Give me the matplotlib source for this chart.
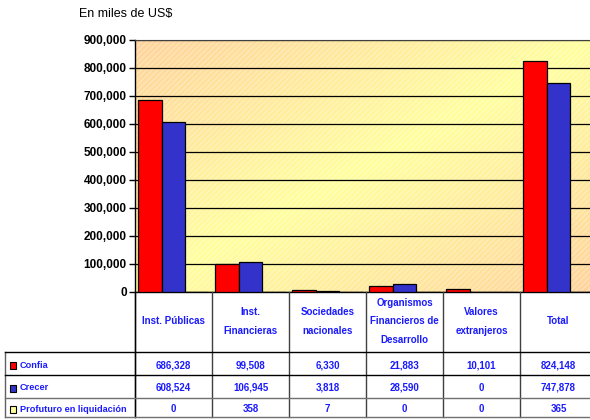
import numpy as np
import matplotlib
matplotlib.use("Agg")
import matplotlib.pyplot as plt
from matplotlib.colors import LinearSegmentedColormap
from matplotlib.patches import Rectangle
from matplotlib.ticker import FuncFormatter

# Data
categories = ["Inst. Públicas", "Inst.\nFinancieras", "Sociedades\nnacionales",
              "Organismos\nFinancieros de\nDesarrollo", "Valores\nextranjeros", "Total"]
series_names = ["Confia", "Crecer", "Profuturo en liquidación"]
confia = [686328, 99508, 6330, 21883, 10101, 824148]
crecer = [608524, 106945, 3818, 28590, 0, 747878]
profuturo = [0, 358, 7, 0, 0, 365]
series_colors = ["#ff0000", "#3333cc", "#ffff99"]
yticks = np.arange(0, 900001, 100000)

txt_blue = "#1a1aff"
fam = ["Liberation Sans", "DejaVu Sans"]
tsize = 7.0

fig = plt.figure(figsize=(5.9, 4.2), dpi=100)
W, H = 590, 420

# ---- bar chart ----
ax = fig.add_axes([135 / W, 128 / H, 462 / W, 252 / H])
x = np.arange(len(categories))
ax.set_xlim(-0.5, len(categories) - 0.5)
ax.set_ylim(0, 900000)

# gradient background orange -> yellow -> orange along the diagonal
gx, gy = np.meshgrid(np.linspace(0, 1, 300), np.linspace(0, 1, 200))
t = (gx + gy) / 2
cmap = LinearSegmentedColormap.from_list("bg", ["#ffd39b", "#ffff9e", "#ffd39b"])
ax.imshow(t, cmap=cmap, vmin=0, vmax=1, extent=[-0.5, 5.5, 0, 900000],
          aspect="auto", zorder=0, interpolation="bilinear")
ax.add_patch(Rectangle((-0.5, 0), 6, 900000, facecolor="none", hatch="//////",
                       edgecolor=(1, 1, 1, 0.3), linewidth=0, zorder=0.5))

ax.yaxis.grid(True, color="black", linewidth=0.9, zorder=1)
ax.set_axisbelow(True)

w = 0.31
for k, (vals, col) in enumerate(zip([confia, crecer, profuturo], series_colors)):
    ax.bar(x + (k - 1) * w, vals, width=w, color=col, edgecolor="black",
           linewidth=0.9, zorder=3)

ax.set_yticks(yticks)
ax.yaxis.set_major_formatter(FuncFormatter(lambda v, p: f"{int(v):,}"))
ax.tick_params(axis="y", length=4, width=1, pad=2, labelsize=8.5)
for lab in ax.get_yticklabels():
    lab.set_fontweight("bold")
    lab.set_family("Liberation Sans")
ax.set_xticks([])
for s in ["left", "bottom"]:
    ax.spines[s].set_color("black")
    ax.spines[s].set_linewidth(1)
ax.spines["top"].set_color("#404040")
ax.spines["right"].set_visible(False)

fig.text(79 / W, 1 - 14 / H, "En miles de US$", fontsize=9, family="Liberation Sans",
         ha="left", va="center")

# ---- data table ----
tab = fig.add_axes([135 / W, 3 / H, 462 / W, 125 / H])
tab.set_xlim(-0.5, len(categories) - 0.5)
tab.set_ylim(125, 0)
tab.axis("off")
px = 1 / 77.0
xl = -0.5 - 130 * px  # left edge of label column

rows_y = [60, 83, 106, 125]
# vertical separators
for b in np.arange(len(categories) + 1) - 0.5:
    tab.plot([b, b], [0, 125], color="#404040", lw=1, clip_on=False)
tab.plot([xl, xl], [60, 125], color="#606060", lw=1, clip_on=False)
tab.plot([-0.5, -0.5], [0, 125], color="black", lw=1, clip_on=False)
for yy, c in zip(rows_y, ["black", "black", "#707070", "#707070"]):
    tab.plot([xl, 6.0], [yy, yy], color=c, lw=1, clip_on=False)

for i, cat in enumerate(categories):
    tab.text(i, 29.5, cat, ha="center", va="center", color=txt_blue, fontsize=tsize,
             fontweight="bold", family=fam, linespacing=2.1)

for r, (name, vals, col) in enumerate(zip(series_names, [confia, crecer, profuturo], series_colors)):
    y0, y1 = rows_y[r], rows_y[r + 1]
    yc = (y0 + y1) / 2 + 1.5
    tab.add_patch(Rectangle((xl + 5 * px, yc - 3.5), 6 * px, 7, facecolor=col,
                            edgecolor="black", lw=0.8, clip_on=False))
    tab.text(xl + 15 * px, yc, name, ha="left", va="center", color=txt_blue,
             fontsize=6.6, fontweight="bold", family=fam, clip_on=False)
    for i, v in enumerate(vals):
        tab.text(i, yc, f"{v:,}", ha="center", va="center", color=txt_blue,
                 fontsize=tsize, fontweight="bold", family=fam)

fig.savefig("out.png", dpi=100)
